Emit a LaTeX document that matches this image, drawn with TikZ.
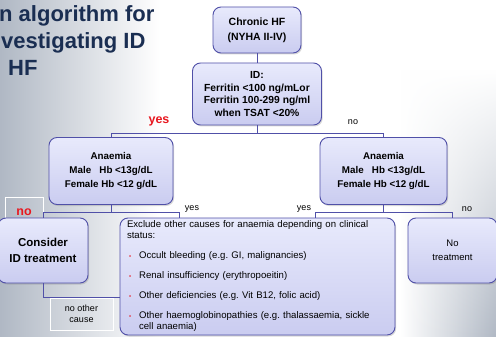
\documentclass[tikz,border=0pt]{standalone}
\usepackage{fontspec}
\setmainfont{Liberation Sans}
\usetikzlibrary{calc,shadows,fadings}
\definecolor{navy}{RGB}{26,46,82}
\definecolor{bline}{RGB}{80,80,168}
\definecolor{btop}{RGB}{232,234,252}
\definecolor{bbot}{RGB}{202,204,240}
\definecolor{bgray}{RGB}{176,184,196}
\definecolor{ared}{RGB}{232,24,32}
\newcommand{\redbul}{\hspace{2pt}\textcolor{ared}{\fontsize{6}{6}\selectfont\textbullet}}
\tikzset{
  box/.style={rectangle,rounded corners=8pt,draw=bline,line width=0.9pt,top color=btop,bottom color=bbot,
    drop shadow={shadow xshift=1.2pt,shadow yshift=-1.5pt,opacity=0.3},align=center,inner sep=2pt},
  conn/.style={draw=bline,line width=0.9pt},
  ttl/.style={anchor=base west,inner sep=0pt,text=navy,font=\bfseries\fontsize{22}{25}\selectfont},
  bigl/.style={text=ared,font=\bfseries\fontsize{12.5}{14}\selectfont,inner sep=1pt},
  smll/.style={font=\fontsize{9}{11}\selectfont,inner sep=1pt,align=center}
}
\begin{document}
\begin{tikzpicture}[x=1pt,y=-1pt]
\useasboundingbox (0,0) rectangle (496,337);
\fill [white] (0,0) rectangle (496,337);
\shade [left color=bgray,right color=white] (0,0) rectangle (160,337);
\shade [left color=white,right color=bgray,path fading=north] (400,70) rectangle (496,337);

\node [ttl] (T1) at (-1,22) {n algorithm for};
\node [ttl] (T2) at (1,49) {vestigating ID};
\node [ttl] (T3) at (8,76) {HF};

\node [bigl] (Lyes) at (159,121) {yes};
\node [smll] (Lno) at (353,122) {no};
\node [bigl,draw=white,line width=0.6pt,minimum width=38pt,minimum height=30pt] (Lno2) at (24,212) {no};
\node [smll,draw=white,line width=0.7pt,minimum width=63pt,minimum height=32pt] (Lcause) at (81.5,314) {no other\\cause};
\node [smll] (Lyes2) at (192,209) {yes};
\node [smll] (Lyes3) at (304,209) {yes};
\node [smll] (Lno3) at (467,209) {no};

\node [box,minimum width=88pt,minimum height=46pt,font=\bfseries\fontsize{10.5}{15}\selectfont] (HF) at (257,30) {Chronic HF\\(NYHA II-IV)};
\node [box,minimum width=129pt,minimum height=62pt,font=\bfseries\fontsize{10.3}{12.5}\selectfont] (ID) at (257,94) {ID:\\Ferritin <100 ng/mLor\\Ferritin 100-299 ng/ml\\when TSAT <20\%};
\node [box,minimum width=124pt,minimum height=67pt,font=\bfseries\fontsize{9.8}{14}\selectfont] (Aleft) at (111,171) {Anaemia\\Male\ \ \ Hb <13g/dL\\Female Hb <12 g/dL};
\node [box,minimum width=127pt,minimum height=67pt,font=\bfseries\fontsize{9.8}{14}\selectfont] (Aright) at (383.5,171) {Anaemia\\Male\ \ \ Hb <13g/dL\\Female Hb <12 g/dL};
\node [box,minimum width=90pt,minimum height=65pt,font=\bfseries\fontsize{11.5}{16}\selectfont] (Cons) at (43,250.5) {Consider\\ID treatment};
\node [box,minimum width=89pt,minimum height=65pt,font=\fontsize{9.5}{14}\selectfont] (NoTr) at (452.5,250.5) {No\\treatment};
\node [box,text width=261pt,minimum height=115pt,inner xsep=7pt,align=left,font=\fontsize{9.6}{11}\selectfont] (Excl) at (257.5,276.5) {\begin{tabular}{@{}l@{\hspace{8pt}}l@{}}
\multicolumn{2}{@{}l@{}}{Exclude other causes for anaemia depending on clinical}\\
\multicolumn{2}{@{}l@{}}{status:}\\[9pt]
\redbul & Occult bleeding (e.g.\ GI, malignancies)\\[9pt]
\redbul & Renal insufficiency (erythropoeitin)\\[9pt]
\redbul & Other deficiencies (e.g.\ Vit B12, folic acid)\\[9pt]
\redbul & Other haemoglobinopathies (e.g.\ thalassaemia, sickle\\
 & cell anaemia)
\end{tabular}};

\coordinate (J1) at (257,133);
\coordinate (J2) at (111,212);
\coordinate (J3) at (383.5,212);

\draw [conn] (HF) -- (ID);
\draw [conn] (ID) -- (J1) -| (Aleft);
\draw [conn] (J1) -| (Aright);
\draw [conn] (Aleft) -- (J2) -| (Cons);
\draw [conn] (J2) -| ([xshift=60pt]Excl.north west);
\draw [conn] (Aright) -- (J3) -| ([xshift=-80pt]Excl.north east);
\draw [conn] (J3) -| (NoTr);
\draw [conn] (Cons) |- ([yshift=-20.5pt]Excl.west);
\end{tikzpicture}
\end{document}
